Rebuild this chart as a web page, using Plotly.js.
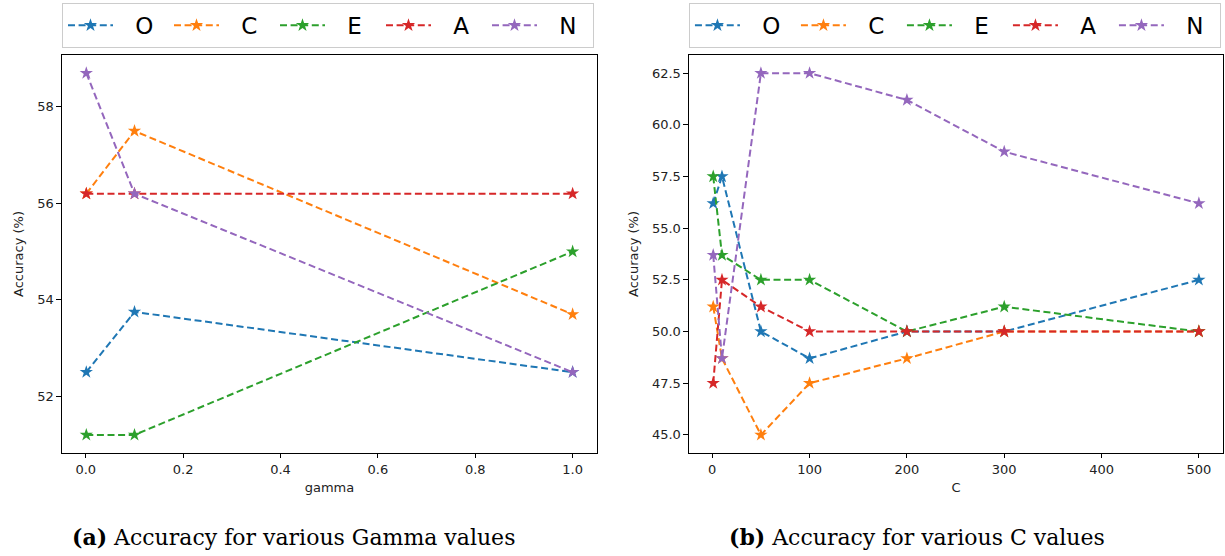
<!DOCTYPE html>
<html>
<head>
<meta charset="utf-8">
<script src="https://cdn.plot.ly/plotly-3.0.1.min.js"></script>
<style>html,body{margin:0;padding:0;background:#fff;}#chart{width:1225px;height:556px;}</style>
</head>
<body>
<div id="chart"></div>
<script>
// ---- data ----
const traitNames = ["O", "C", "E", "A", "N"];
const traitColors = ["#1f77b4", "#ff7f0e", "#2ca02c", "#d62728", "#9467bd"];

const gammaValues = [0.001, 0.1, 1.0];
const gammaO = [52.5, 53.75, 52.5];
const gammaC = [56.2, 57.5, 53.7];
const gammaE = [51.2, 51.2, 55.0];
const gammaA = [56.2, 56.2, 56.2];
const gammaN = [58.7, 56.2, 52.5];

const cValues = [1, 10, 50, 100, 200, 300, 500];
const cO = [56.2, 57.5, 50.0, 48.7, 50.0, 50.0, 52.5];
const cC = [51.2, 48.7, 45.0, 47.5, 48.7, 50.0, 50.0];
const cE = [57.5, 53.7, 52.5, 52.5, 50.0, 51.2, 50.0];
const cA = [47.5, 52.5, 51.2, 50.0, 50.0, 50.0, 50.0];
const cN = [53.7, 48.7, 62.5, 62.5, 61.2, 58.7, 56.2];

const gammaTicks = [0, 0.2, 0.4, 0.6, 0.8, 1.0];
const gammaTickText = ["0.0", "0.2", "0.4", "0.6", "0.8", "1.0"];
const gammaYTicks = [52, 54, 56, 58];
const cTicks = [0, 100, 200, 300, 400, 500];
const cYTicks = [45, 47.5, 50, 52.5, 55, 57.5, 60, 62.5];
const cYTickText = ["45.0", "47.5", "50.0", "52.5", "55.0", "57.5", "60.0", "62.5"];

const captionA = "<b>(a)</b> Accuracy for various Gamma values";
const captionB = "<b>(b)</b> Accuracy for various C values";

// ---- build ----
const gammaSeries = [gammaO, gammaC, gammaE, gammaA, gammaN];
const cSeries = [cO, cC, cE, cA, cN];
const legendPad = "\u2002\u2005"; // spacing between legend sample and label

const traces = [];
function addTraces(xs, series, xa, ya, leg) {
  series.forEach((ys, i) => {
    traces.push({
      x: xs, y: ys, type: "scatter", mode: "lines+markers",
      name: legendPad + traitNames[i], xaxis: xa, yaxis: ya, legend: leg,
      line: {color: traitColors[i], width: 2, dash: "7px,3.6px"},
      marker: {symbol: "star", size: 10, color: traitColors[i], line: {width: 0}}
    });
  });
}
addTraces(gammaValues, gammaSeries, "x", "y", "legend");
addTraces(cValues, cSeries, "x2", "y2", "legend2");

function span(arr) {
  const lo = Math.min(...arr), hi = Math.max(...arr), m = (hi - lo) * 0.05;
  return [lo - m, hi + m];
}
const gy = span([].concat(...gammaSeries));
const cy = span([].concat(...cSeries));

const tickFont = {family: "DejaVu Sans", size: 13, color: "#222"};
const axBase = {
  showgrid: false, zeroline: false, showline: true, mirror: true,
  linecolor: "#000", linewidth: 1, ticks: "outside", ticklen: 4.5,
  tickcolor: "#000", tickwidth: 1, tickfont: tickFont
};
const yDom = [0.1853, 0.901];

const legendBase = {
  orientation: "h", xanchor: "left", yanchor: "top", y: 0.995,
  bordercolor: "#cccccc", borderwidth: 1, bgcolor: "#fff",
  font: {family: "DejaVu Sans", size: 23, color: "#000"},
  itemwidth: 45,
  entrywidth: 46, entrywidthmode: "pixels", itemclick: false
};

const layout = {
  width: 1225, height: 556,
  margin: {l: 0, r: 0, t: 0, b: 0},
  paper_bgcolor: "#fff", plot_bgcolor: "#fff",
  showlegend: true,
  xaxis: Object.assign({}, axBase, {
    domain: [0.0506, 0.4873], anchor: "y", range: span(gammaValues),
    tickvals: gammaTicks, ticktext: gammaTickText,
    title: {text: "gamma", font: {family: "DejaVu Sans", size: 13, color: "#222"}, standoff: 6}
  }),
  yaxis: Object.assign({}, axBase, {
    domain: yDom, anchor: "x", range: gy, tickvals: gammaYTicks,
    title: {text: "Accuracy (%)", font: {family: "DejaVu Sans", size: 13, color: "#222"}, standoff: 10}
  }),
  xaxis2: Object.assign({}, axBase, {
    domain: [0.5624, 0.9985], anchor: "y2", range: span(cValues), tickvals: cTicks,
    title: {text: "C", font: {family: "DejaVu Sans", size: 13, color: "#222"}, standoff: 6}
  }),
  yaxis2: Object.assign({}, axBase, {
    domain: yDom, anchor: "x2", range: cy, tickvals: cYTicks, ticktext: cYTickText,
    title: {text: "Accuracy (%)", font: {family: "DejaVu Sans", size: 13, color: "#222"}, standoff: 10}
  }),
  legend: Object.assign({}, legendBase, {x: 0.0506}),
  legend2: Object.assign({}, legendBase, {x: 0.5624}),
  annotations: [
    {text: captionA, xref: "paper", yref: "paper", x: 293 / 1225, y: 1 - 537 / 556,
     xanchor: "center", yanchor: "middle", showarrow: false,
     font: {family: "DejaVu Serif", size: 22, color: "#000"}},
    {text: captionB, xref: "paper", yref: "paper", x: 917 / 1225, y: 1 - 537 / 556,
     xanchor: "center", yanchor: "middle", showarrow: false,
     font: {family: "DejaVu Serif", size: 22, color: "#000"}}
  ]
};

Plotly.newPlot("chart", traces, layout, {displayModeBar: false, staticPlot: true});
</script>
</body>
</html>
